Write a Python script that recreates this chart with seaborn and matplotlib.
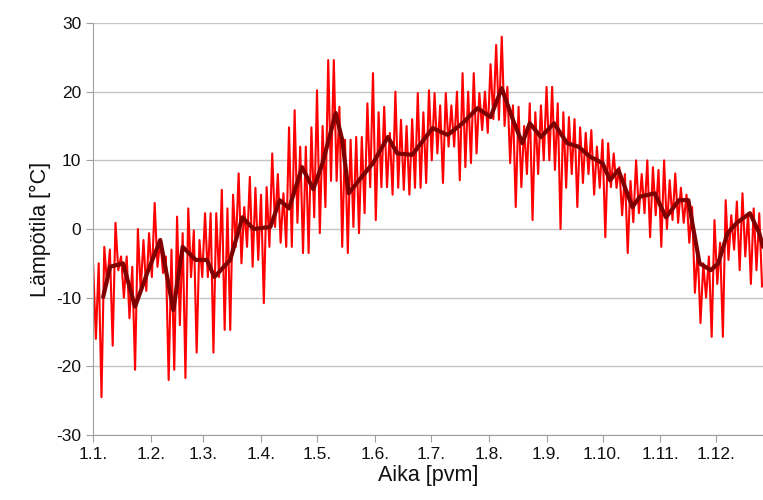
import numpy as np
import pandas as pd
import matplotlib.pyplot as plt
import seaborn as sns

# Tick labels: first day of each month (day of year)
month_days = [0, 31, 59, 90, 120, 151, 181, 212, 243, 273, 304, 334]
month_labels = ["1.1.", "1.2.", "1.3.", "1.4.", "1.5.", "1.6.", "1.7.", "1.8.",
                "1.9.", "1.10.", "1.11.", "1.12."]

# Raw temperature, read as daily high / low every 3 days (day 0, 3, 6, ...)
raw_hi = [-5, -5, -2.6, -3, 0.9, -4, -4, -5.5, 0, -1.6,
          -0.6, 3.8, -1.6, -4, -3, 1.8, -0.6, 3, -0.2, -1.6,
          2.3, 2.3, 2.3, 5.7, 3, 5, 8.1, 3.2, 7.6, 6,
          5, 6.1, 11, 8, 5.2, 14.8, 17.3, 12, 12, 14.8,
          20.2, 15, 24.6, 24.6, 17.8, 13, 13, 13.4, 13.4, 18.3,
          22.7, 17, 17.8, 14, 20, 15.9, 15, 16, 19.8, 17,
          20.2, 19.8, 18, 19.8, 18, 20, 22.7, 20, 22.7, 19.8,
          20, 24, 26.8, 28, 20.7, 18, 17.8, 15, 18.3, 17,
          18, 20.7, 20.7, 18.3, 17, 16.3, 16, 14.8, 14, 14.4,
          12, 13, 12.5, 11, 9, 8, 7, 10, 8, 10,
          9, 8.6, 10, 7.1, 8.1, 6, 5, 3.2, -3, -5,
          -4, 1.3, -2, 4.2, 2, 4, 5.2, 2.3, 3, 2.3]
raw_lo = [-16, -24.5, -8, -17, -6, -10, -13, -20.5, -9, -9,
          -7, -5.5, -6.4, -22, -20.5, -14, -21.7, -7, -18, -7,
          -7, -18, -7, -14.7, -14.7, -2.6, -5, -2.6, -5.5, -4.5,
          -10.8, -2.6, 0.3, -2, -2.6, -2.6, 0.9, -3.5, -3.5, 1.7,
          -0.6, 3.2, 7, 7, -2.6, -3.5, 0.3, -0.6, 2.3, 6.1,
          1.3, 6.1, 6.1, 5, 6, 5.7, 5, 6, 6, 6.7,
          10, 11, 6.7, 12, 12, 7.1, 9, 9.6, 11, 14.4,
          14, 16, 15.9, 15, 9.6, 3.2, 6.1, 8, 1.3, 8,
          10, 10, 8.6, 0, 6, 8, 3.2, 6.7, 8, 5,
          6, -1.2, 6.1, 6, 2, -3.5, 1, 2.3, 2.3, -1.2,
          2, -2.6, 0, 1.3, 0.9, 0.9, -2, -9.3, -13.7, -10,
          -15.7, -8, -15.7, -4.5, -3, -6, -4, -8, -6, -8.4]

# Smoothed (moving average) temperature
smooth_day = [5.4, 9.1, 16, 22.5, 29, 36, 43, 48, 55, 61,
              65, 73.5, 80, 86, 95, 100, 105, 112, 118, 123,
              130, 133.5, 137, 144, 150, 158, 163, 171, 182, 190,
              198, 206, 213, 219, 225, 230, 234, 240, 247, 254,
              260, 266.5, 273, 277, 281.5, 289, 293, 301, 307, 314,
              319, 321.5, 325, 331, 335, 340, 345, 352, 357, 359]
smooth_temp = [-9.9, -5.5, -5, -11.3, -6.4, -1.6, -11.8, -2.6, -4.5, -4.5,
               -7, -4.5, 1.7, 0, 0.3, 4.2, 3, 9, 5.8, 9.6,
               16.9, 13, 5.2, 7.6, 9.6, 13.4, 11, 10.8, 14.7, 13.7,
               15.4, 17.6, 16.3, 20.5, 15.9, 12.5, 15.4, 13.4, 15.4, 12.5,
               12, 10.5, 9.6, 7.1, 8.6, 3.2, 4.7, 5.2, 1.7, 4.2,
               4.2, 0.3, -5, -6, -5, -0.6, 0.9, 2.3, -0.6, -2.6]

# zigzag between high and low of each block
raw_day = []
raw_temp = []
for i in range(len(raw_hi)):
    raw_day += [3 * i, 3 * i + 1.5]
    raw_temp += [raw_hi[i], raw_lo[i]]
raw = pd.DataFrame({"day": raw_day, "temp": raw_temp})
smooth = pd.DataFrame({"day": smooth_day, "temp": smooth_temp})

sns.set_style("white")
plt.rcParams["font.family"] = ["Liberation Sans Narrow", "Liberation Sans", "DejaVu Sans"]
plt.rcParams["axes.unicode_minus"] = False

fig = plt.figure(figsize=(7.63, 5.0), dpi=100)
ax = fig.add_axes([0.122, 0.13, 0.878, 0.824])

sns.lineplot(data=raw, x="day", y="temp", color="#ff0000", linewidth=1.5,
             sort=False, estimator=None, ax=ax)
sns.lineplot(data=smooth, x="day", y="temp", color="#800000", linewidth=3,
             sort=False, estimator=None, ax=ax)

ax.set_xlim(0, 359)
ax.set_ylim(-30, 30)
ax.set_yticks(range(-30, 31, 10))
ax.set_xticks(month_days)
ax.set_xticklabels(month_labels)
ax.yaxis.grid(True, color="#c4c4c4", linewidth=1)
ax.set_axisbelow(True)

for side in ["top", "right"]:
    ax.spines[side].set_visible(False)
for side in ["left", "bottom"]:
    ax.spines[side].set_color("#a0a0a0")
ax.tick_params(axis="both", direction="out", length=5, color="#a0a0a0",
               labelsize=12.5, labelcolor="#111111", bottom=True, left=True)

ax.set_xlabel("Aika [pvm]", fontsize=15.5, color="#111111", labelpad=2)
ax.set_ylabel("Lämpötila [°C]", fontsize=15.5, color="#111111", labelpad=4)

fig.savefig("out.png", dpi=100)
